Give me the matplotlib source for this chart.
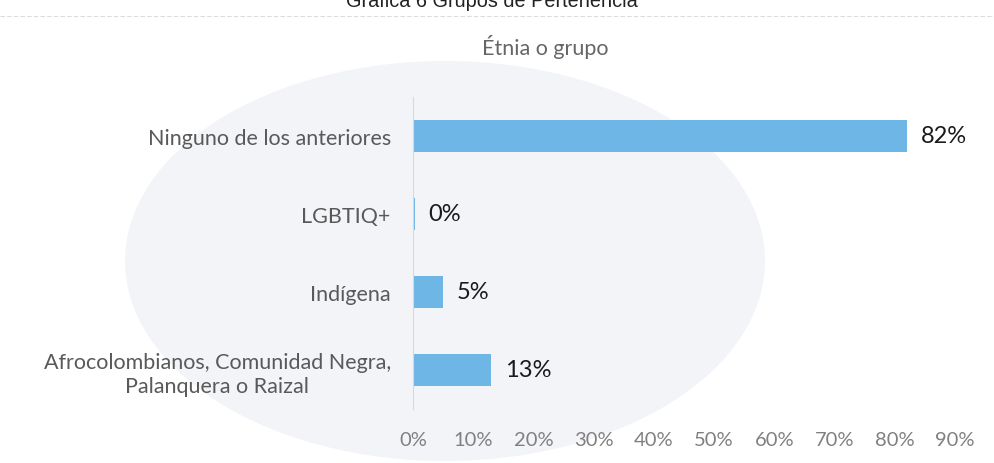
import matplotlib
matplotlib.use("Agg")
import matplotlib.pyplot as plt
from matplotlib.patches import Ellipse

categories = ["Afrocolombianos, Comunidad Negra,\nPalanquera o Raizal", "Indígena", "LGBTIQ+", "Ninguno de los anteriores"]
values = [13, 5, 0.3, 82]
labels = ["13%", "5%", "0%", "82%"]
xticks = [0, 10, 20, 30, 40, 50, 60, 70, 80, 90]

plt.rcParams['font.family'] = ['Lato', 'DejaVu Sans']

fig = plt.figure(figsize=(9.95, 4.64), dpi=100)
fig.patch.set_facecolor('white')

# faint background shape (scan bleed-through)
bg = fig.add_axes([0, 0, 1, 1], zorder=0)
bg.set_xlim(0, 995); bg.set_ylim(464, 0); bg.axis('off')
bg.add_patch(Ellipse((445, 262), 640, 400, facecolor='#f3f4f8', edgecolor='none'))
bg.plot([0, 995], [17, 17], color='#dcdcdc', lw=0.8, ls=(0, (4, 2)))
bg.text(492, 7, "Gráfica 6 Grupos de Pertenencia", ha='center', va='baseline',
        fontsize=14.3, family=['Liberation Sans', 'DejaVu Sans'], color='#222222')
bg.text(545, 47, "Étnia o grupo", ha='center', va='center', fontsize=15.5, color='#666666')

ax = fig.add_axes([413/995, 1-410/464, (955-413)/995, (410-98)/464], zorder=1)
ax.patch.set_alpha(0)
y = range(len(categories))
ax.barh(y, values, height=0.4, color='#6db6e6')
for yi, v, lab in zip(y, values, labels):
    ax.text(v + 2.3, yi, lab, va='center', ha='left', fontsize=17, color='#1a1a1a')
ax.set_xlim(0, 90)
ax.set_ylim(-0.5, 3.5)
ax.set_yticks(list(y))
ax.set_yticklabels(categories, fontsize=15.5, color='#595959', linespacing=1.25)
for t in ax.get_yticklabels():
    t.set_multialignment('center')
ax.set_xticks(xticks)
ax.set_xticklabels([f"{t}%" for t in xticks], fontsize=14.5, color='#808080')
ax.tick_params(axis='both', length=0)
ax.tick_params(axis='y', pad=16)
ax.tick_params(axis='x', pad=16)
for s in ['top', 'right', 'bottom']:
    ax.spines[s].set_visible(False)
ax.spines['left'].set_color('#d9d9d9')

fig.savefig("out.png", dpi=100)
